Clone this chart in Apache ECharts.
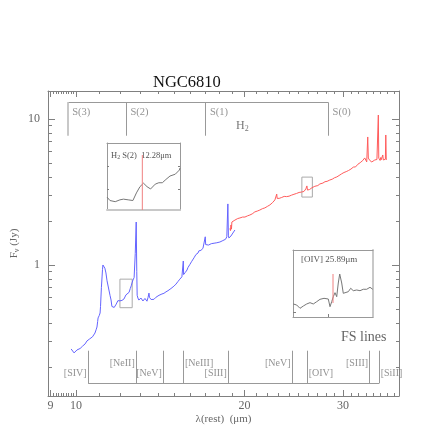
<!DOCTYPE html>
<html>
<head>
<meta charset="utf-8">
<script src="https://cdn.jsdelivr.net/npm/echarts@6/dist/echarts.min.js"></script>
<style>html,body{margin:0;padding:0;background:#fff}#c{width:436px;height:436px}</style>
</head>
<body>
<div id="c"></div>
<script>
(function () {
  'use strict';
  const SERIF = "'Liberation Serif','DejaVu Serif',serif";
  const AX = '#808080';
  const TXT = '#666';

  // axis ranges and ticks (micron / Jy)
  const xRange = [8.91, 37.78];
  const yRange = [0.1267, 15.55];
  const xMajor = [9, 10, 20, 30];
  const xMinor = [9.1, 9.2, 9.3, 9.4, 9.5, 9.6, 9.7, 9.8, 9.9,
    11, 12, 13, 14, 15, 16, 17, 18, 19, 21, 22, 23, 24, 25, 26, 27, 28, 29,
    31, 32, 33, 34, 35, 36, 37];
  const yMajor = [1, 10];
  const yMinor = [0.2, 0.3, 0.4, 0.5, 0.6, 0.7, 0.8, 0.9, 2, 3, 4, 5, 6, 7, 8, 9];

  // short-wavelength spectrum (blue)
  const blueWave = [
    9.80, 9.84, 9.88, 9.92, 9.96, 10.00, 10.04, 10.08, 10.12, 10.17,
    10.22, 10.27, 10.33, 10.38, 10.42, 10.46, 10.52, 10.58, 10.64, 10.70,
    10.76, 10.81, 10.86, 10.90, 10.93, 10.95, 11.00, 11.04, 11.06, 11.08,
    11.10, 11.13, 11.15, 11.17, 11.20, 11.22, 11.26, 11.31, 11.36, 11.42,
    11.50, 11.55, 11.59, 11.65, 11.70, 11.74, 11.80, 11.84, 11.88, 11.93,
    11.98, 12.03, 12.08, 12.13, 12.18, 12.23, 12.28, 12.33, 12.38, 12.44,
    12.50, 12.55, 12.59, 12.64, 12.70, 12.76, 12.81, 12.84, 12.86, 12.90,
    12.95, 13.01, 13.06, 13.10, 13.17, 13.22, 13.28, 13.33, 13.39, 13.45,
    13.50, 13.53, 13.56, 13.62, 13.67, 13.72, 13.78, 13.84, 13.90, 13.95,
    14.01, 14.07, 14.12, 14.18, 14.24, 14.30, 14.36, 14.42, 14.48, 14.54,
    14.60, 14.66, 14.72, 14.78, 14.84, 14.90, 14.96, 15.03, 15.09, 15.15,
    15.21, 15.27, 15.33, 15.40, 15.46, 15.52, 15.55, 15.57, 15.62, 15.68,
    15.73, 15.79, 15.85, 15.92, 15.98, 16.04, 16.10, 16.18, 16.25, 16.30,
    16.38, 16.45, 16.52, 16.58, 16.65, 16.72, 16.80, 16.86, 16.95, 17.02,
    17.05, 17.10, 17.18, 17.25, 17.35, 17.45, 17.55, 17.65, 17.75, 17.85,
    17.95, 18.08, 18.18, 18.30, 18.40, 18.50, 18.60, 18.68, 18.72, 18.76,
    18.84, 18.92, 19.00, 19.07, 19.15, 19.23
  ];
  const blueFlux = [
    .266, .258, .262, .250, .258, .255, .262, .256, .262, .268,
    .265, .278, .274, .288, .294, .302, .308, .312, .318, .322,
    .330, .342, .360, .376, .410, .434, .450, .469, .520, .604,
    .700, .828, .930, 1.000, 1.016, 1.000, .950, .882, .780, .707,
    .620, .576, .520, .508, .512, .516, .540, .549, .570, .576,
    .568, .558, .572, .580, .585, .598, .624, .612, .623, .650,
    .690, .720, .753, .789, .820, 1.200, 1.970, .900, .620, .594,
    .575, .576, .594, .585, .567, .578, .590, .580, .565, .600,
    .642, .600, .590, .580, .576, .586, .582, .594, .602, .598,
    .608, .620, .615, .626, .633, .630, .640, .643, .655, .660,
    .667, .676, .680, .690, .696, .706, .716, .730, .740, .752,
    .770, .790, .800, .812, .830, .845, 1.065, .860, .880, .890,
    .910, .924, .960, .990, 1.010, 1.030, 1.060, 1.080, 1.120, 1.140,
    1.180, 1.170, 1.208, 1.250, 1.227, 1.260, 1.290, 1.300, 1.330, 1.560,
    1.380, 1.340, 1.360, 1.370, 1.380, 1.400, 1.390, 1.410, 1.420, 1.420,
    1.430, 1.437, 1.450, 1.470, 1.490, 1.500, 1.560, 2.620, 1.600, 1.531,
    1.540, 1.580, 1.620, 1.656, 1.700, 1.737
  ];

  // long-wavelength spectrum (red)
  const redWave = [
    18.84, 18.88, 18.92, 18.96, 18.99, 19.05, 19.12, 19.23, 19.35, 19.45,
    19.55, 19.63, 19.75, 19.85, 19.95, 20.04, 20.15, 20.25, 20.35, 20.45,
    20.55, 20.65, 20.75, 20.87, 20.97, 21.08, 21.20, 21.31, 21.42, 21.53,
    21.64, 21.75, 21.86, 21.98, 22.10, 22.21, 22.32, 22.44, 22.56, 22.67,
    22.78, 22.84, 22.88, 22.95, 23.07, 23.19, 23.31, 23.43, 23.55, 23.67,
    23.79, 23.91, 24.03, 24.15, 24.28, 24.40, 24.52, 24.65, 24.78, 24.91,
    25.04, 25.17, 25.30, 25.43, 25.55, 25.65, 25.75, 25.80, 25.86, 25.92,
    25.96, 26.05, 26.15, 26.28, 26.40, 26.50, 26.60, 26.72, 26.83, 26.94,
    27.05, 27.16, 27.28, 27.40, 27.50, 27.62, 27.74, 27.86, 27.98, 28.10,
    28.22, 28.30, 28.42, 28.55, 28.70, 28.85, 28.98, 29.10, 29.25, 29.38,
    29.52, 29.65, 29.80, 29.98, 30.12, 30.26, 30.40, 30.55, 30.70, 30.85,
    31.00, 31.15, 31.30, 31.45, 31.60, 31.75, 31.90, 32.05, 32.20, 32.32,
    32.41, 32.55, 32.68, 32.81, 32.95, 33.08, 33.15, 33.22, 33.30, 33.36,
    33.50, 33.65, 33.78, 33.92, 34.05, 34.20, 34.35, 34.50, 34.62, 34.70,
    34.76, 34.85, 34.95, 35.05, 35.12, 35.19, 35.28, 35.34, 35.42, 35.52,
    35.63, 35.72, 35.78, 35.85, 35.93
  ];
  const redFlux = [
    1.780, 1.720, 1.880, 1.760, 1.970, 1.960, 2.010, 2.030, 2.060, 2.080,
    2.060, 2.100, 2.110, 2.130, 2.120, 2.130, 2.160, 2.170, 2.180, 2.200,
    2.230, 2.240, 2.280, 2.310, 2.300, 2.340, 2.370, 2.380, 2.410, 2.430,
    2.440, 2.460, 2.500, 2.520, 2.550, 2.580, 2.630, 2.670, 2.720, 2.790,
    2.830, 3.060, 2.860, 2.830, 2.860, 2.890, 2.900, 2.920, 2.950, 2.930,
    2.940, 2.920, 2.960, 2.990, 3.010, 3.020, 3.050, 3.070, 3.090, 3.110,
    3.140, 3.130, 3.160, 3.160, 3.190, 3.230, 3.320, 3.250, 3.480, 3.260,
    3.260, 3.300, 3.290, 3.320, 3.380, 3.420, 3.400, 3.460, 3.440, 3.480,
    3.500, 3.540, 3.590, 3.570, 3.620, 3.640, 3.650, 3.720, 3.700, 3.740,
    3.800, 3.780, 3.820, 3.880, 3.870, 3.940, 3.960, 3.980, 4.010, 4.050,
    4.100, 4.120, 4.200, 4.270, 4.300, 4.340, 4.360, 4.420, 4.440, 4.470,
    4.540, 4.600, 4.680, 4.720, 4.700, 4.840, 4.900, 4.950, 5.020, 4.980,
    5.080, 5.200, 5.300, 5.410, 5.300, 5.080, 5.200, 7.530, 5.400, 5.410,
    5.200, 5.150, 5.080, 5.180, 5.150, 5.240, 5.200, 5.280, 5.400, 10.650,
    5.400, 5.240, 5.200, 5.450, 5.260, 5.240, 5.300, 5.670, 5.240, 5.200,
    5.240, 5.300, 7.770, 5.300, 5.240
  ];

  // line identifications
  const h2Names = ['S(3)', 'S(2)', 'S(1)', 'S(0)'];
  const h2Waves = [9.66, 12.28, 17.03, 28.22];
  const fsNames = ['[SIV]', '[NeII]', '[NeV]', '[NeIII]', '[SIII]', '[NeV]', '[OIV]', '[SIII]', '[SiII]'];
  const fsWaves = [10.51, 12.81, 14.32, 15.56, 18.71, 24.32, 25.89, 33.48, 34.82];

  // zoom insets
  const h2InsetX = [11.98, 12.60];
  const h2InsetY = [0.51, 0.80];
  const h2InsetYTicks = [0.6, 0.7];
  const h2InsetWave = [11.98, 12.005, 12.05, 12.09, 12.12, 12.16, 12.20, 12.23, 12.26, 12.29,
    12.32, 12.35, 12.39, 12.42, 12.45, 12.48, 12.515, 12.56, 12.595, 12.60];
  const h2InsetFlux = [0.566, 0.551, 0.546, 0.554, 0.557, 0.554, 0.551, 0.584, 0.611, 0.626,
    0.611, 0.601, 0.622, 0.628, 0.628, 0.642, 0.657, 0.665, 0.683, 0.692];
  const h2Marker = [0.51, 0.748];

  const oivInsetX = [25.33, 26.45];
  const oivInsetY = [2.92, 4.0];
  const oivInsetXTicks = [25.83];
  const oivInsetYTicks = [3.0];
  const oivInsetWave = [25.334, 25.382, 25.428, 25.474, 25.522, 25.568, 25.614, 25.662, 25.708, 25.764,
    25.824, 25.848, 25.872, 25.894, 25.918, 25.942, 25.964, 25.984, 26.012, 26.034,
    26.058, 26.104, 26.138, 26.174, 26.222, 26.268, 26.314, 26.362, 26.408, 26.446];
  const oivInsetFlux = [3.130, 3.113, 3.060, 3.097, 3.130, 3.151, 3.130, 3.167, 3.205, 3.221,
    3.210, 3.086, 3.167, 3.247, 3.312, 3.247, 3.468, 3.613, 3.468, 3.302,
    3.275, 3.328, 3.383, 3.344, 3.355, 3.344, 3.367, 3.367, 3.399, 3.367];
  const oivMarker = [3.146, 3.613];

  // bracket levels (Jy)
  const H2_TOP = 13.01, H2_BOT = 7.68, H2_LAB = 11.08;
  const FS_TOP = 0.2588, FS_BOT = 0.1547, FS_UP = 0.2134, FS_LOW = 0.1822;
  const fsSide = ['left', 'left', 'left', 'right', 'left', 'left', 'right', 'left', 'right'];
  const fsRow = [FS_LOW, FS_UP, FS_LOW, FS_UP, FS_LOW, FS_UP, FS_LOW, FS_UP, FS_LOW];

  const L = Math.log10;
  const P = (x, y) => [L(x), L(y)];
  const zipLog = (xs, ys) => xs.map((x, i) => P(x, ys[i]));
  const zip = (xs, ys) => xs.map((x, i) => [x, ys[i]]);

  function axis(o) {
    const a = {
      type: 'value', gridIndex: o.grid || 0, position: o.pos,
      min: o.min, max: o.max, scale: true,
      axisLine: { show: o.line !== false, onZero: false, lineStyle: { color: o.lineColor || AX, width: o.lineWidth || 1 } },
      axisTick: { show: !!o.ticks, inside: true, length: o.len || 3, customValues: o.ticks || [], lineStyle: { color: AX } },
      axisLabel: { show: false },
      splitLine: { show: false }
    };
    if (o.labels) {
      a.axisLabel = {
        show: true, customValues: o.labels,
        formatter: function (v) { return String(Math.round(Math.pow(10, v))); },
        color: TXT, fontFamily: SERIF, fontSize: 12, margin: o.margin
      };
    }
    return a;
  }

  const xm = [L(xRange[0]), L(xRange[1])];
  const ym = [L(yRange[0]), L(yRange[1])];

  const xAxes = [
    Object.assign(axis({ pos: 'bottom', min: xm[0], max: xm[1], ticks: xMajor.map(L), len: 6, labels: xMajor.map(L), margin: 4 }), {
      name: 'λ(rest)  (μm)', nameLocation: 'middle', nameGap: 18, nameMoveOverlap: false,
      nameTextStyle: { color: TXT, fontFamily: SERIF, fontSize: 11 }
    }),
    axis({ pos: 'bottom', min: xm[0], max: xm[1], ticks: xMinor.map(L), len: 3, line: false }),
    axis({ pos: 'top', min: xm[0], max: xm[1], ticks: xMajor.map(L), len: 6 }),
    axis({ pos: 'top', min: xm[0], max: xm[1], ticks: xMinor.map(L), len: 3, line: false }),
    axis({ grid: 1, pos: 'bottom', min: h2InsetX[0], max: h2InsetX[1], lineColor: '#c8c8c8', lineWidth: 2 }),
    axis({ grid: 1, pos: 'top', min: h2InsetX[0], max: h2InsetX[1], lineColor: '#999' }),
    axis({ grid: 2, pos: 'bottom', min: oivInsetX[0], max: oivInsetX[1], ticks: oivInsetXTicks, len: 3, lineColor: '#999' }),
    axis({ grid: 2, pos: 'top', min: oivInsetX[0], max: oivInsetX[1], lineColor: '#999' })
  ];
  const yAxes = [
    Object.assign(axis({ pos: 'left', min: ym[0], max: ym[1], ticks: yMajor.map(L), len: 7, labels: yMajor.map(L), margin: 8 }), {
      name: '{m|F}{s|ν}{m| (Jy)}', nameLocation: 'middle', nameGap: 27, nameMoveOverlap: false,
      nameTextStyle: { color: TXT, fontFamily: SERIF, fontSize: 11,
        rich: { m: { fontFamily: SERIF, fontSize: 11, color: TXT }, s: { fontFamily: SERIF, fontSize: 8, color: TXT, padding: [5, 0, 0, 0] } } }
    }),
    axis({ pos: 'left', min: ym[0], max: ym[1], ticks: yMinor.map(L), len: 4, line: false }),
    axis({ pos: 'right', min: ym[0], max: ym[1], ticks: yMajor.map(L), len: 7 }),
    axis({ pos: 'right', min: ym[0], max: ym[1], ticks: yMinor.map(L), len: 3, line: false }),
    axis({ grid: 1, pos: 'left', min: h2InsetY[0], max: h2InsetY[1], ticks: h2InsetYTicks, len: 2, lineColor: '#999' }),
    axis({ grid: 1, pos: 'right', min: h2InsetY[0], max: h2InsetY[1], ticks: h2InsetYTicks, len: 2, lineColor: '#999' }),
    axis({ grid: 2, pos: 'left', min: oivInsetY[0], max: oivInsetY[1], ticks: oivInsetYTicks, len: 3, lineColor: '#999' }),
    axis({ grid: 2, pos: 'right', min: oivInsetY[0], max: oivInsetY[1], lineColor: '#c8c8c8', lineWidth: 2 })
  ];

  // bracket geometry
  const h2Lines = [{ coords: [P(h2Waves[0], H2_TOP), P(h2Waves[h2Waves.length - 1], H2_TOP)] }];
  h2Waves.forEach(function (w, i) {
    const item = { coords: [P(w, H2_TOP), P(w, H2_BOT)] };
    if (i === 0) item.lineStyle = { color: '#c8c8c8', width: 2 };
    h2Lines.push(item);
  });
  const fsLines = [{ coords: [P(fsWaves[0], FS_BOT), P(fsWaves[fsWaves.length - 1], FS_BOT)] }];
  fsWaves.forEach(function (w) { fsLines.push({ coords: [P(w, FS_TOP), P(w, FS_BOT)] }); });

  const rect = (xr, yr) => ({ coords: [P(xr[0], yr[0]), P(xr[1], yr[0]), P(xr[1], yr[1]), P(xr[0], yr[1]), P(xr[0], yr[0])] });

  const labelStyle = { color: '#777', fontFamily: SERIF, fontSize: 10 };
  const h2Labels = h2Waves.map((w, i) => ({ name: h2Names[i], value: P(w, H2_LAB), label: { position: 'right', distance: 4 } }));
  const fsLabels = fsWaves.map((w, i) => ({ name: fsNames[i], value: P(w, fsRow[i]), label: { position: fsSide[i], distance: 1 } }));

  const chart = echarts.init(document.getElementById('c'), null, { renderer: 'canvas' });
  chart.setOption({
    animation: false,
    backgroundColor: '#fff',
    grid: [
      { left: 48, top: 91, right: 37, bottom: 40, outerBoundsMode: 'none' },
      { left: 107, top: 143, width: 73, height: 67, outerBoundsMode: 'none' },
      { left: 293, top: 250, width: 80, height: 67, outerBoundsMode: 'none' }
    ],
    xAxis: xAxes,
    yAxis: yAxes,
    graphic: [
      { type: 'text', left: 153, top: 74, style: { text: 'NGC6810', font: '16.5px ' + SERIF, fill: '#111' } },
      { type: 'text', left: 236, top: 120, style: { text: '{a|H}{b|2}', rich: { a: { fontFamily: SERIF, fontSize: 12, fill: '#777' }, b: { fontFamily: SERIF, fontSize: 8, fill: '#777', padding: [6, 0, 0, 0] } } } },
      { type: 'text', left: 341, top: 330, style: { text: 'FS lines', font: '14px ' + SERIF, fill: '#666' } },
      { type: 'text', left: 111, top: 151, style: { text: '{a|H}{b|2}{a| S(2)  12.28μm}', rich: { a: { fontFamily: SERIF, fontSize: 8.5, fill: '#555' }, b: { fontFamily: SERIF, fontSize: 6, fill: '#555', padding: [4, 0, 0, 0] } } } },
      { type: 'text', left: 301, top: 255, style: { text: '[OIV] 25.89μm', font: '9px ' + SERIF, fill: '#555' } }
    ],
    series: [
      { type: 'lines', coordinateSystem: 'cartesian2d', xAxisIndex: 0, yAxisIndex: 0, silent: true,
        lineStyle: { color: '#999', width: 1, opacity: 1 }, data: h2Lines },
      { type: 'lines', coordinateSystem: 'cartesian2d', xAxisIndex: 0, yAxisIndex: 0, silent: true,
        lineStyle: { color: '#999', width: 1, opacity: 1 }, data: fsLines },
      { type: 'lines', coordinateSystem: 'cartesian2d', xAxisIndex: 0, yAxisIndex: 0, polyline: true, silent: true,
        lineStyle: { color: '#aaa', width: 1, opacity: 1 }, data: [rect(h2InsetX, h2InsetY), rect(oivInsetX, oivInsetY)] },
      { type: 'scatter', xAxisIndex: 0, yAxisIndex: 0, symbolSize: 1, silent: true,
        itemStyle: { color: 'rgba(0,0,0,0)' },
        label: Object.assign({ show: true, formatter: '{b}' }, labelStyle, { fontSize: 10.5 }), data: h2Labels },
      { type: 'scatter', xAxisIndex: 0, yAxisIndex: 0, symbolSize: 1, silent: true,
        itemStyle: { color: 'rgba(0,0,0,0)' },
        label: Object.assign({ show: true, formatter: '{b}' }, labelStyle), data: fsLabels },
      { type: 'line', xAxisIndex: 0, yAxisIndex: 0, data: zipLog(blueWave, blueFlux), showSymbol: false,
        lineStyle: { color: '#6464ff', width: 1 }, z: 5 },
      { type: 'line', xAxisIndex: 0, yAxisIndex: 0, data: zipLog(redWave, redFlux), showSymbol: false,
        lineStyle: { color: '#ff5c5c', width: 1 }, z: 5 },
      { type: 'line', xAxisIndex: 4, yAxisIndex: 4, data: zip(h2InsetWave, h2InsetFlux), showSymbol: false,
        lineStyle: { color: '#777', width: 1 } },
      { type: 'line', xAxisIndex: 4, yAxisIndex: 4, data: [[12.28, h2Marker[0]], [12.28, h2Marker[1]]], showSymbol: false,
        lineStyle: { color: '#f08080', width: 1 } },
      { type: 'line', xAxisIndex: 6, yAxisIndex: 6, data: zip(oivInsetWave, oivInsetFlux), showSymbol: false,
        lineStyle: { color: '#777', width: 1 } },
      { type: 'line', xAxisIndex: 6, yAxisIndex: 6, data: [[25.89, oivMarker[0]], [25.89, oivMarker[1]]], showSymbol: false,
        lineStyle: { color: '#f08080', width: 1 } }
    ]
  });
})();
</script>
</body>
</html>
